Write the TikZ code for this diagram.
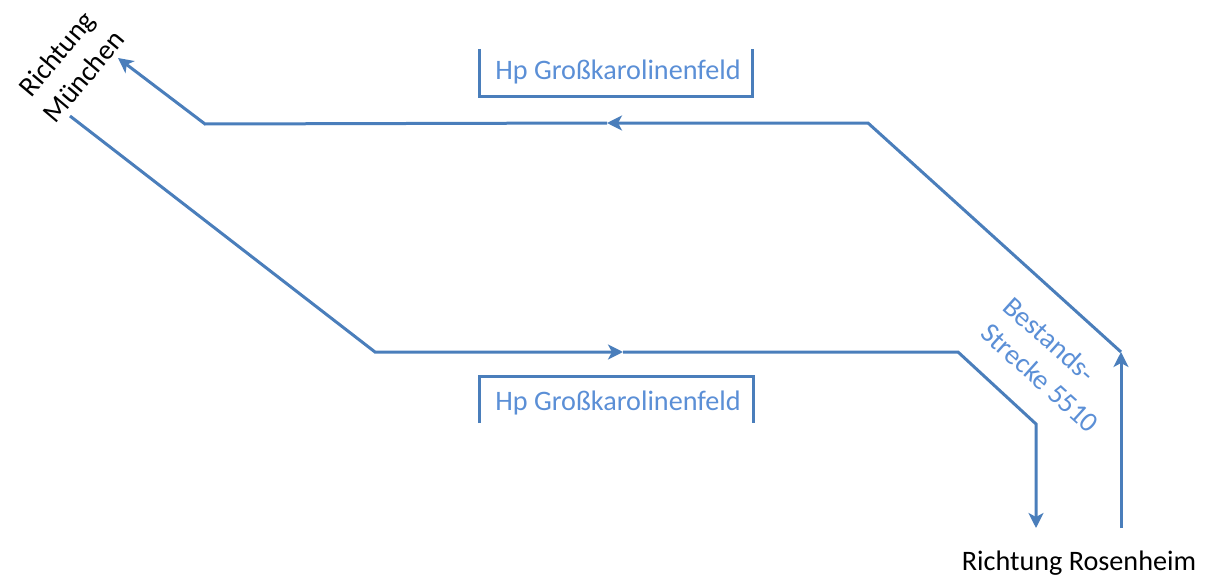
\documentclass[tikz,border=0pt]{standalone}
\usepackage{fontspec}
\setmainfont{Carlito}
\usetikzlibrary{arrows.meta}
\definecolor{trackc}{HTML}{4A7EBB}
\definecolor{labelc}{HTML}{5B8FD6}
\tikzset{
  track/.style={draw=trackc,line width=3pt,line join=miter,line cap=butt},
  tipped/.style={track,-{Stealth[length=15pt,width=15pt,inset=4pt]}},
  blue label/.style={text=labelc,font=\fontsize{28.2pt}{35pt}\selectfont,inner sep=0pt,align=center},
  black label/.style={text=black,font=\fontsize{28.2pt}{35pt}\selectfont,inner sep=0pt,align=center}
}
\begin{document}
\begin{tikzpicture}[x=1pt,y=-1pt]
\useasboundingbox (0,0) rectangle (1211,578);
% upper track
\coordinate (junctionR) at (1121,352);
\coordinate (upperR) at (868,123);
\coordinate (upperMid) at (607,123);
\coordinate (upperL) at (205,124);
\coordinate (muenchenTip) at (118,58);
% lower track
\coordinate (muenchenStart) at (70,116);
\coordinate (lowerL) at (375,352);
\coordinate (lowerMid) at (623,352);
\coordinate (lowerR) at (958,352);
\coordinate (lowerBend) at (1036,424);
\coordinate (rosenTip) at (1036,528);
\coordinate (rosenStart) at (1121,528);
% platforms
\coordinate (p1a) at (479,49);
\coordinate (p1b) at (479,97);
\coordinate (p1c) at (752,97);
\coordinate (p1d) at (752,49);
\coordinate (p2a) at (479,423);
\coordinate (p2b) at (479,376);
\coordinate (p2c) at (753,376);
\coordinate (p2d) at (753,423);

\draw[track] (p1a) -- (p1b) -- (p1c) -- (p1d);
\draw[track] (p2a) -- (p2b) -- (p2c) -- (p2d);
\draw[tipped] (junctionR) -- (upperR) -- (upperMid);
\draw[tipped] (upperMid) -- (upperL) -- (muenchenTip);
\draw[tipped] (muenchenStart) -- (lowerL) -- (lowerMid);
\draw[tipped] (lowerMid) -- (lowerR) -- (lowerBend) -- (rosenTip);
\draw[tipped] (rosenStart) -- (junctionR);

\node[blue label] (hp1) at (618,72) {Hp Großkarolinenfeld};
\node[blue label] (hp2) at (618,403) {Hp Großkarolinenfeld};
\node[blue label,rotate=-42] (bestand) at (1052,365) {Bestands-\hspace*{38pt}\\Strecke 5510};
\node[black label,rotate=50] (muenchen) at (70,65) {Richtung\\München};
\node[black label] (rosenheim) at (1079,563) {Richtung Rosenheim};
\end{tikzpicture}
\end{document}
